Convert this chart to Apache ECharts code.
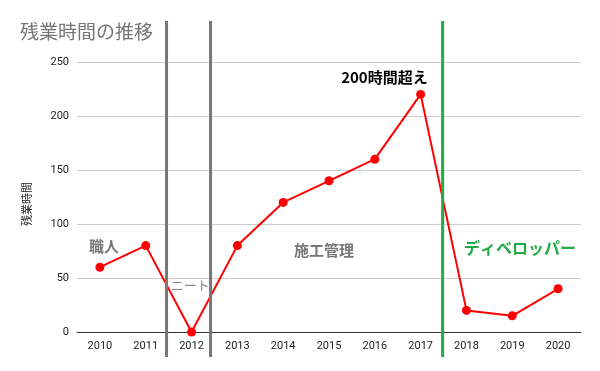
<!DOCTYPE html>
<html><head><meta charset="utf-8">
<script src="https://cdn.jsdelivr.net/npm/echarts@6/dist/echarts.min.js"></script>
<style>html,body{margin:0;padding:0;background:#fff}#c{width:600px;height:371px}</style>
</head><body><div id="c"></div>
<script>
var years = ['2010','2011','2012','2013','2014','2015','2016','2017','2018','2019','2020'];
var hours = [60, 80, 0, 80, 120, 140, 160, 220, 20, 15, 40];
var yTicks = [0, 50, 100, 150, 200, 250];
// divider positions in category-index units
var dividers = [1.454, 2.415, 7.48];
var dividerColors = ['#777777', '#777777', '#22aa44'];
// annotations: [text, categoryIndex, value]
var notes = [
  ['職人', 0.09, 79],
  ['ニート', 1.97, 43],
  ['施工管理', 4.89, 76],
  ['ディベロッパー', 9.17, 78],
  ['200時間超え', 6.21, 236]
];
var noteStyles = [
  {fill:'#777777', font:'bold 15px "Noto Sans CJK JP"'},
  {fill:'#888888', font:'13px "Noto Sans CJK JP"'},
  {fill:'#777777', font:'bold 15px "Noto Sans CJK JP"'},
  {fill:'#22aa44', font:'bold 16px "Noto Sans CJK JP"'},
  {fill:'#000000', font:'bold 15px "Noto Sans CJK JP"'}
];

var chart = echarts.init(document.getElementById('c'), null, {renderer:'canvas'});
chart.setOption({
  animation:false,
  title:{text:'残業時間の推移', left:15, top:17, textStyle:{color:'#757575', fontSize:19, fontWeight:'normal', fontFamily:'"Noto Sans CJK JP"'}},
  grid:{left:77, right:19, top:62, bottom:39},
  xAxis:[{type:'category', data:years, boundaryGap:true,
    axisLine:{lineStyle:{color:'#333', width:1}}, axisTick:{show:false},
    axisLabel:{color:'#222', fontSize:11, fontFamily:'Roboto, Arial', margin:9}},
    {type:'value', min:-0.5, max:10.5, show:false}],
  yAxis:{type:'value', min:0, max:250, interval:50,
    name:'残業時間', nameLocation:'middle', nameGap:45, nameRotate:90,
    nameTextStyle:{color:'#222', fontSize:11, fontFamily:'"Noto Sans CJK JP"', padding:[0,14,0,0]},
    axisLine:{show:false}, axisTick:{show:false},
    axisLabel:{color:'#222', fontSize:11, fontFamily:'Roboto, Arial', margin:8},
    splitLine:{lineStyle:{color:'#cccccc'}}},
  series:[{type:'line', data:hours, xAxisIndex:0, color:'#ff0000',
    lineStyle:{width:2, color:'#ff0000'}, symbol:'circle', symbolSize:9,
    itemStyle:{color:'#ff0000'}, z:3}]
});

function px(x, y){ return chart.convertToPixel({xAxisIndex:1, yAxisIndex:0}, [x, y]); }
var g = [];
dividers.forEach(function(d, i){
  var p = px(d, 0);
  g.push({type:'line', shape:{x1:p[0], y1:21, x2:p[0], y2:357}, style:{stroke:dividerColors[i], lineWidth:3}, z:10});
});
notes.forEach(function(n, i){
  var p = px(n[1], n[2]);
  g.push({type:'text', x:p[0], y:p[1], style:{text:n[0], fill:noteStyles[i].fill, font:noteStyles[i].font, textAlign:'center', textVerticalAlign:'middle'}, z:11});
});
chart.setOption({graphic:g});
</script></body></html>
